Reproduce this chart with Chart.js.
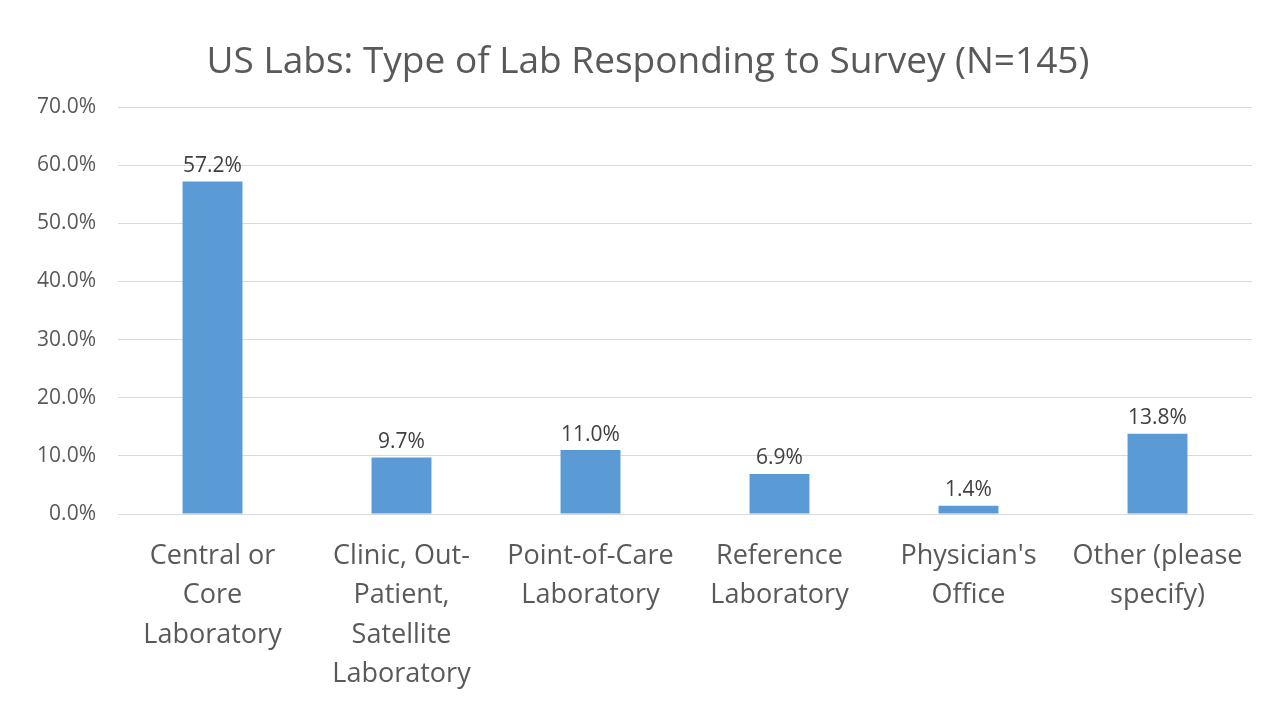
<!DOCTYPE html>
<html>
<head>
<meta charset="utf-8">
<script src="https://cdn.jsdelivr.net/npm/chart.js@4.4.1/dist/chart.umd.min.js"></script>
<style>
  html, body { margin: 0; padding: 0; background: #fff; }
  #wrap { width: 1280px; height: 720px; }
</style>
</head>
<body>
<div id="wrap"><canvas id="grafico"></canvas></div>
<script>
// ---------------- DADOS ----------------
const titulo = "US Labs: Type of Lab Responding to Survey (N=145)";
const categorias = [
  ["Central or", "Core", "Laboratory"],
  ["Clinic, Out-", "Patient,", "Satellite", "Laboratory"],
  ["Point-of-Care", "Laboratory"],
  ["Reference", "Laboratory"],
  ["Physician's", "Office"],
  ["Other (please", "specify)"]
];
const percentagens = [57.2, 9.7, 11.0, 6.9, 1.4, 13.8];
const eixoMax = 70;
const eixoPasso = 10;

const fonte = "'Open Sans', sans-serif";

// rótulos por cima das barras
const rotulosBarras = {
  id: "rotulosBarras",
  afterDatasetsDraw(chart) {
    const ctx = chart.ctx;
    const meta = chart.getDatasetMeta(0);
    ctx.save();
    ctx.font = "21px " + fonte;
    ctx.fillStyle = "#404040";
    ctx.textAlign = "center";
    ctx.textBaseline = "bottom";
    meta.data.forEach((bar, i) => {
      ctx.fillText(percentagens[i].toFixed(1) + "%", bar.x, bar.y - 5);
    });
    ctx.restore();
  }
};

// título centrado na página (o bloco do Chart.js só reserva o espaço)
const tituloCentrado = {
  id: "tituloCentrado",
  afterDraw(chart) {
    const ctx = chart.ctx;
    const t = chart.options.plugins.title;
    ctx.save();
    ctx.font = t.font.size + "px " + fonte;
    ctx.fillStyle = "#595959";
    ctx.textAlign = "center";
    ctx.textBaseline = "middle";
    ctx.fillText(titulo, chart.width / 2 + 8, t.padding.top + t.font.size * 0.6);
    ctx.restore();
  }
};

new Chart(
  document.getElementById("grafico"),
  {
    type: 'bar',
    data: {
      labels: categorias,
      datasets: [{
        data: percentagens,
        backgroundColor: "#5B9BD5",
        barPercentage: 0.317,
        categoryPercentage: 1
      }]
    },
    options: {
      responsive: true,
      maintainAspectRatio: false,
      animation: false,
      layout: {
        padding: { left: 0, right: 28, top: 0, bottom: 0 }
      },
      plugins: {
        legend: { display: false },
        tooltip: { enabled: false },
        title: {
          display: true,
          text: titulo,
          color: "rgba(0,0,0,0)",
          font: { family: fonte, size: 37, weight: 'normal' },
          padding: { top: 40, bottom: 22.6 }
        }
      },
      scales: {
        x: {
          grid: { display: false, drawTicks: false },
          border: { display: true, color: "#D9D9D9", width: 1 },
          ticks: {
            color: "#595959",
            font: { family: fonte, size: 27, lineHeight: 1.45 },
            padding: 23,
            maxRotation: 0,
            autoSkip: false
          },
          afterFit: s => { s.height = 206; }
        },
        y: {
          min: 0,
          max: eixoMax,
          grid: { color: "#D9D9D9", drawTicks: false },
          border: { display: false },
          ticks: {
            stepSize: eixoPasso,
            color: "#595959",
            font: { family: fonte, size: 21 },
            padding: 22,
            callback: v => v.toFixed(1) + "%"
          },
          afterFit: s => { s.width = 118; }
        }
      }
    },
    plugins: [rotulosBarras, tituloCentrado]
  }
);
</script>
</body>
</html>
